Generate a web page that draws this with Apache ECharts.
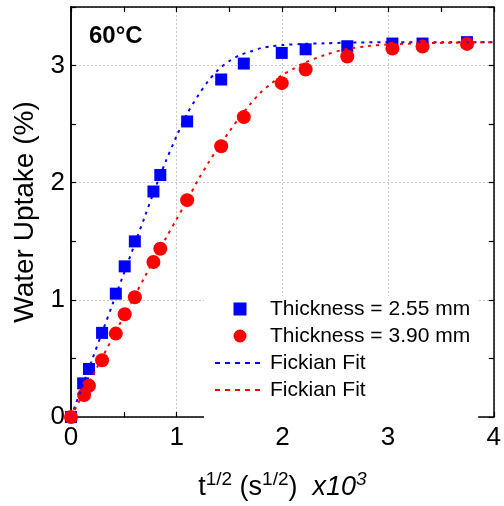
<!DOCTYPE html>
<html>
<head>
<meta charset="utf-8">
<script src="https://cdn.jsdelivr.net/npm/echarts@6/dist/echarts.min.js"></script>
<style>html,body{margin:0;padding:0;background:#fff}#c{width:504px;height:506px}</style>
</head>
<body>
<div id="c"></div>
<script>
// Measured data
const sqrtTime = [0, 0.115, 0.17, 0.294, 0.424, 0.508, 0.604, 0.78, 0.845, 1.099, 1.421, 1.635, 1.994, 2.22, 2.614, 3.041, 3.326, 3.747];
const uptakeThin = [0, 0.287, 0.41, 0.718, 1.053, 1.286, 1.499, 1.925, 2.066, 2.523, 2.881, 3.017, 3.108, 3.139, 3.165, 3.188, 3.188, 3.2];
const sqrtTimeThick = [0, 0.124, 0.17, 0.294, 0.424, 0.508, 0.604, 0.78, 0.845, 1.099, 1.421, 1.635, 1.994, 2.22, 2.614, 3.041, 3.326, 3.747];
const uptakeThick = [0, 0.187, 0.267, 0.485, 0.712, 0.877, 1.022, 1.323, 1.436, 1.851, 2.311, 2.56, 2.85, 2.966, 3.077, 3.145, 3.162, 3.185];

const fitThinX = [0, 0.1, 0.2, 0.3, 0.4, 0.5, 0.6, 0.7, 0.8, 0.9, 1.0, 1.1, 1.2, 1.3, 1.4, 1.5, 1.6, 1.7, 1.8, 1.9, 2.0, 2.2, 2.4, 2.6, 3.0, 3.5, 4.0];
const fitThinY = [0, 0.245, 0.49, 0.735, 0.98, 1.225, 1.47, 1.715, 1.96, 2.19, 2.40, 2.59, 2.74, 2.87, 2.97, 3.04, 3.09, 3.12, 3.15, 3.165, 3.175, 3.185, 3.19, 3.195, 3.2, 3.2, 3.2];
const fitThickX = [0, 0.1, 0.2, 0.3, 0.4, 0.5, 0.6, 0.7, 0.8, 0.9, 1.0, 1.1, 1.2, 1.3, 1.4, 1.5, 1.6, 1.7, 1.8, 1.9, 2.0, 2.1, 2.2, 2.4, 2.6, 2.8, 3.0, 3.3, 3.6, 4.0];
const fitThickY = [0, 0.172, 0.344, 0.516, 0.688, 0.86, 1.03, 1.2, 1.37, 1.53, 1.69, 1.85, 2.02, 2.17, 2.31, 2.44, 2.565, 2.675, 2.775, 2.85, 2.92, 2.97, 3.02, 3.09, 3.14, 3.165, 3.18, 3.19, 3.195, 3.2];

const xTicks = [0, 1, 2, 3, 4];
const yTicks = [0, 1, 2, 3];
const seriesNames = ['Thickness = 2.55 mm', 'Thickness = 3.90 mm', 'Fickian Fit', 'Fickian Fit '];

const zip = (a, b) => a.map((v, i) => [v, b[i]]);
const FONT = 'Liberation Sans, Arial, sans-serif';
const DASH_ICON = 'path://M0,0h5v2h-5z M10,0h5v2h-5z M20,0h5v2h-5z M30,0h5v2h-5z M40,0h5v2h-5z M45,0h5v0.01h-5z';

const chart = echarts.init(document.getElementById('c'));
const axisCommon = {
  axisLine: { show: true, onZero: false, lineStyle: { color: '#000', width: 1.5 } },
  axisTick: { show: true, inside: true, length: 5, lineStyle: { color: '#000', width: 1.2 } },
};
chart.setOption({
  animation: false,
  backgroundColor: '#fff',
  title: {
    text: '60°C', left: 84, top: 19,
    textStyle: { fontFamily: FONT, fontSize: 24, fontWeight: 'bold', color: '#000' }
  },
  grid: { left: 71, right: 2, top: 7, bottom: 87 },
  legend: {
    orient: 'vertical', left: 204, top: 296,
    padding: [2, 8, 20, 11],
    backgroundColor: '#fff',
    itemWidth: 50, itemHeight: 13, itemGap: 5,
    selectedMode: false,
    data: [
      { name: seriesNames[0], icon: 'path://M0,0L12,0L12,12L0,12Z' },
      { name: seriesNames[1], icon: 'circle' },
      { name: seriesNames[2], icon: DASH_ICON },
      { name: seriesNames[3], icon: DASH_ICON }
    ],
    formatter: n => n.trim(),
    textStyle: { fontFamily: FONT, fontSize: 21, color: '#000', lineHeight: 22 }
  },
  xAxis: [
    Object.assign({}, axisCommon, {
      type: 'value', position: 'bottom', min: 0, max: 4, interval: 1,
      minorTick: { show: true, splitNumber: 2, length: 5, lineStyle: { color: '#000', width: 1.2 } },
      axisLabel: { fontFamily: FONT, fontSize: 26, color: '#000', margin: 8,
        formatter: v => xTicks.includes(v) ? String(v) : '' },
      splitLine: { show: true, lineStyle: { color: '#c8c8c8', type: [2, 2], width: 1 } },
      name: '{n|t}{s|1/2}{n| (s}{s|1/2}{n|)  }{i|x10}{si|3}',
      nameLocation: 'middle', nameGap: 53,
      nameTextStyle: {
        rich: {
          n: { fontFamily: FONT, fontSize: 27, color: '#000', lineHeight: 31, verticalAlign: 'bottom' },
          s: { fontFamily: FONT, fontSize: 19, color: '#000', lineHeight: 31, verticalAlign: 'top' },
          i: { fontFamily: FONT, fontSize: 27, fontStyle: 'italic', color: '#000', lineHeight: 31, verticalAlign: 'bottom' },
          si: { fontFamily: FONT, fontSize: 19, fontStyle: 'italic', color: '#000', lineHeight: 31, verticalAlign: 'top' }
        }
      }
    }),
    Object.assign({}, axisCommon, {
      type: 'value', position: 'top', min: 0, max: 4, interval: 0.5,
      axisLabel: { show: false }, splitLine: { show: false }
    })
  ],
  yAxis: [
    Object.assign({}, axisCommon, {
      type: 'value', position: 'left', min: 0, max: 3.5, interval: 1,
      axisTick: { show: false },
      axisLabel: { fontFamily: FONT, fontSize: 26, color: '#000', margin: 6,
        formatter: v => yTicks.includes(v) ? String(v) : '' },
      splitLine: { show: true, lineStyle: { color: '#c8c8c8', type: [2, 2], width: 1 } },
      name: 'Water Uptake (%)', nameLocation: 'middle', nameGap: 30,
      nameTextStyle: { fontFamily: FONT, fontSize: 28, color: '#000' }
    }),
    Object.assign({}, axisCommon, {
      type: 'value', position: 'left', min: 0, max: 3.5, interval: 0.5,
      axisLabel: { show: false }, splitLine: { show: false }
    }),
    Object.assign({}, axisCommon, {
      type: 'value', position: 'right', min: 0, max: 3.5, interval: 0.5,
      axisLabel: { show: false }, splitLine: { show: false }
    })
  ],
  series: [
    { name: seriesNames[0], type: 'scatter', symbol: 'rect', symbolSize: 12,
      itemStyle: { color: '#0000ff', opacity: 1 }, data: zip(sqrtTime, uptakeThin), z: 3 },
    { name: seriesNames[1], type: 'scatter', symbol: 'circle', symbolSize: 14,
      itemStyle: { color: '#ff0000', opacity: 1 }, data: zip(sqrtTimeThick, uptakeThick), z: 3 },
    { name: seriesNames[2], type: 'line', symbol: 'none', smooth: 0.3,
      itemStyle: { color: '#0000ff' },
      lineStyle: { color: '#0000ff', width: 2, type: [3, 5] },
      data: zip(fitThinX, fitThinY), z: 4 },
    { name: seriesNames[3], type: 'line', symbol: 'none', smooth: 0.3,
      itemStyle: { color: '#ff0000' },
      lineStyle: { color: '#ff0000', width: 2, type: [3, 5] },
      data: zip(fitThickX, fitThickY), z: 4 }
  ]
});
</script>
</body>
</html>
